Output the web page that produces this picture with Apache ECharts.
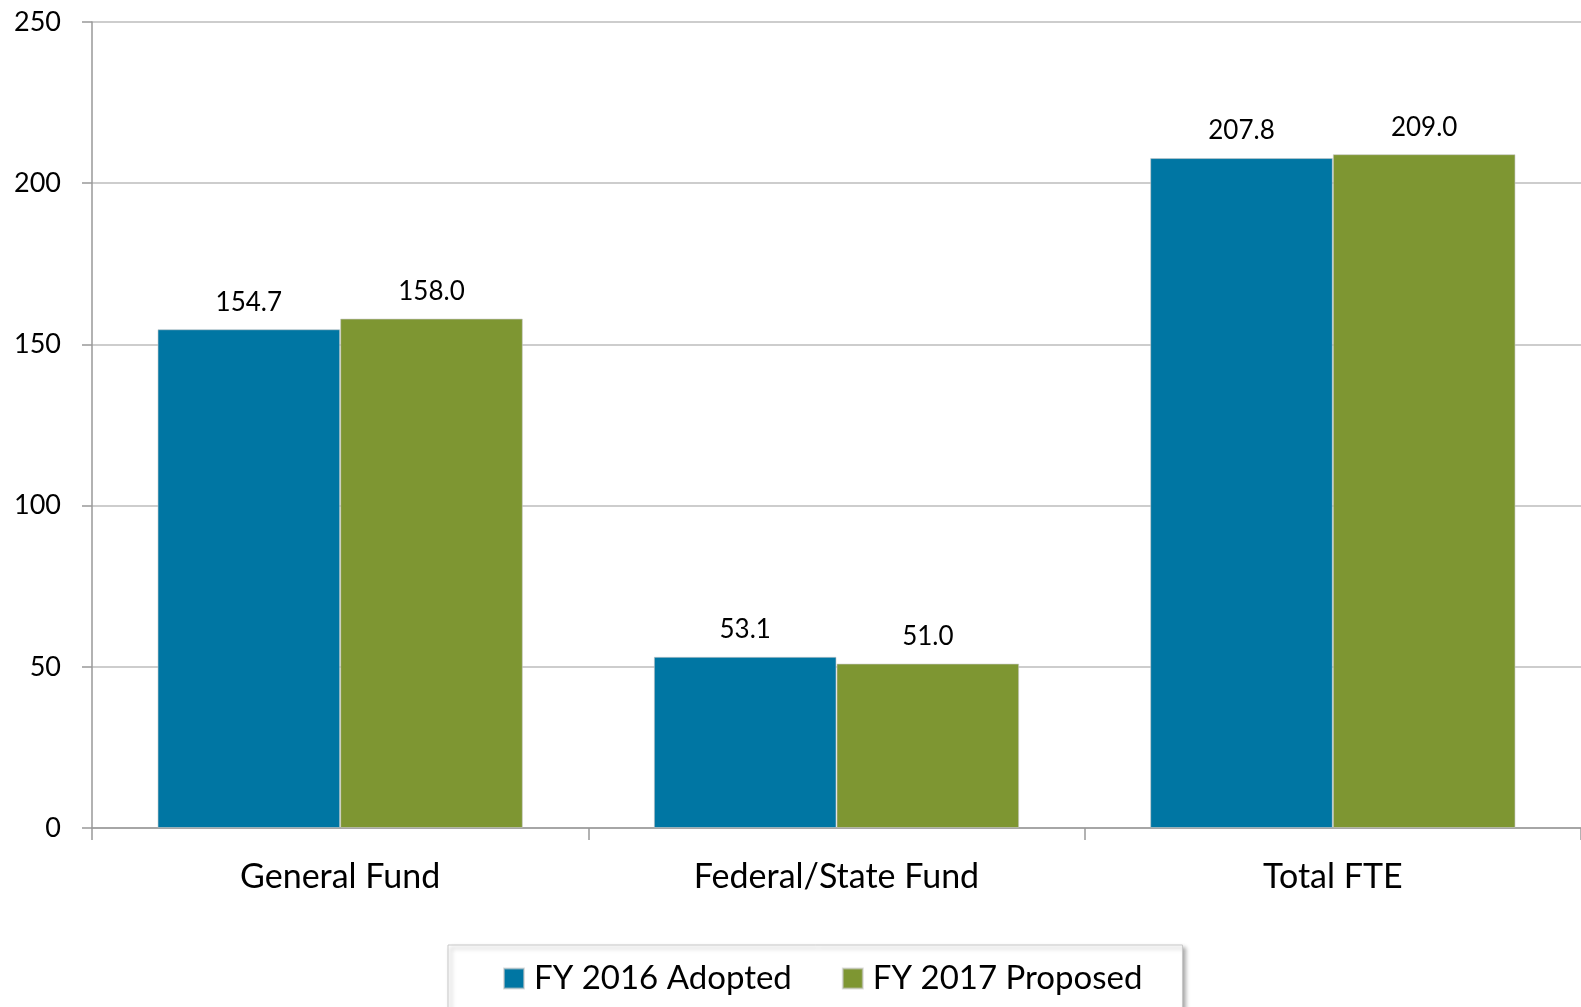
<!DOCTYPE html>
<html>
<head>
<meta charset="utf-8">
<script src="https://cdn.jsdelivr.net/npm/echarts@6/dist/echarts.min.js"></script>
<style>
html,body{margin:0;padding:0;background:#fff;}
#chart{width:1581px;height:1007px;}
</style>
</head>
<body>
<div id="chart"></div>
<script>
const categories = ['General Fund', 'Federal/State Fund', 'Total FTE'];
const fy2016Adopted = [154.7, 53.1, 207.8];
const fy2017Proposed = [158.0, 51.0, 209.0];
const seriesNames = ['FY 2016 Adopted', 'FY 2017 Proposed'];
const yMin = 0, yMax = 250, yInterval = 50;

const FONT = 'Lato, sans-serif';
const chart = echarts.init(document.getElementById('chart'), null, {renderer: 'canvas'});

const labelCfg = {
  show: true,
  position: 'top',
  distance: 14,
  color: '#000',
  fontFamily: FONT,
  fontSize: 26,
  formatter: p => p.value.toFixed(1)
};

chart.setOption({
  animation: false,
  backgroundColor: '#fff',
  grid: {left: 92, top: 22, width: 1497, height: 806, containLabel: false},
  legend: {
    data: seriesNames,
    left: 448,
    top: 945,
    padding: [17, 40, 24, 55],
    itemWidth: 20,
    itemHeight: 20,
    itemGap: 50,
    borderColor: '#c8c8c8',
    borderWidth: 1,
    backgroundColor: '#fff',
    shadowColor: 'rgba(0,0,0,0.35)',
    shadowBlur: 4,
    shadowOffsetX: 3,
    shadowOffsetY: 3,
    icon: 'rect',
    textStyle: {fontFamily: FONT, fontSize: 33, color: '#000', padding: [0, 0, 0, 5]}
  },
  xAxis: {
    type: 'category',
    data: categories,
    axisLine: {lineStyle: {color: '#999', width: 1.5}},
    axisTick: {show: true, length: 12, alignWithLabel: false, lineStyle: {color: '#999', width: 1.5}},
    axisLabel: {fontFamily: FONT, fontSize: 34, color: '#000', margin: 32}
  },
  yAxis: {
    type: 'value',
    min: yMin,
    max: yMax,
    interval: yInterval,
    axisLine: {show: true, lineStyle: {color: '#999', width: 1.5}},
    axisTick: {show: true, length: 10, lineStyle: {color: '#999', width: 1.5}},
    axisLabel: {fontFamily: FONT, fontSize: 27, color: '#000', margin: 31},
    splitLine: {lineStyle: {color: '#bdbdbd', width: 1.5}}
  },
  series: [
    {
      name: seriesNames[0],
      type: 'bar',
      data: fy2016Adopted,
      barWidth: '36.8%',
      barGap: '0%',
      itemStyle: {color: '#0076a3', borderColor: 'rgba(200,200,200,0.6)', borderWidth: 1},
      label: labelCfg
    },
    {
      name: seriesNames[1],
      type: 'bar',
      data: fy2017Proposed,
      barWidth: '36.8%',
      barGap: '0%',
      itemStyle: {color: '#7e9632', borderColor: 'rgba(200,200,200,0.6)', borderWidth: 1},
      label: labelCfg
    }
  ]
});
</script>
</body>
</html>
